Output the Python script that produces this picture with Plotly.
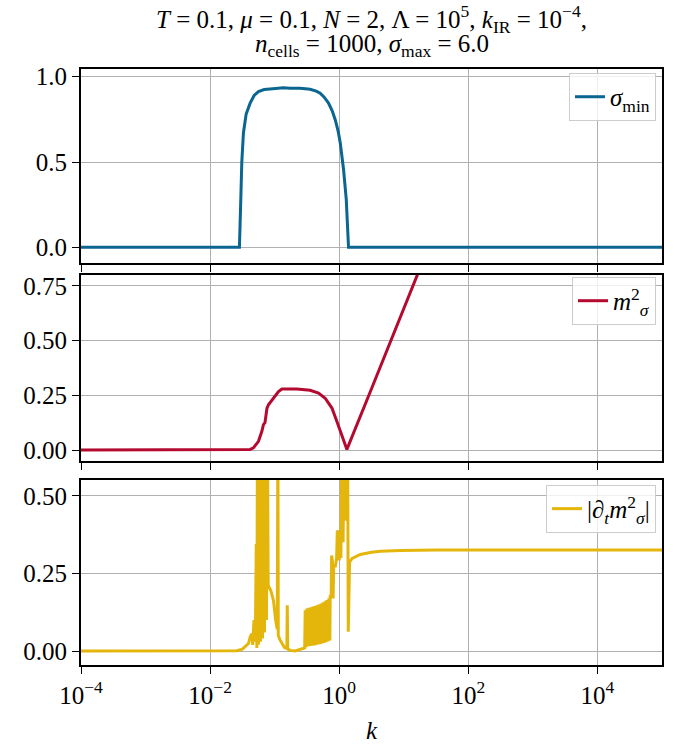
import plotly.graph_objects as go
from plotly.subplots import make_subplots

# ---------------- data ----------------
# panel 1: sigma_min vs log10(k)
sigma_logk = [-4.0, -1.546, -1.527, -1.509, -1.484, -1.442, -1.380, -1.318, -1.251,
              -1.163, -1.070, -0.915, -0.868, -0.760, -0.605, -0.450, -0.357, -0.295,
              -0.233, -0.166, -0.109, -0.062, -0.016, 0.016, 0.067, 0.109, 0.135,
              0.144, 5.0]
sigma_vals = [0.0, 0.0, 0.25, 0.50, 0.67, 0.78, 0.845, 0.89, 0.913,
              0.925, 0.928, 0.932, 0.935, 0.932, 0.932, 0.926, 0.915, 0.903,
              0.88, 0.845, 0.80, 0.748, 0.68, 0.612, 0.456, 0.281, 0.087,
              0.0, 0.0]

# panel 2: m_sigma^2 vs log10(k)
m2_logk = [-4.0, -1.431, -1.380, -1.329, -1.251, -1.198, -1.174, -1.150, -1.132,
           -1.120, -1.096, -1.019, -0.941, -0.888, -0.656, -0.450, -0.321, -0.217,
           -0.113, -0.036, 0.042, 0.119, 0.50, 0.946, 1.21, 1.30]
m2_vals = [0.0, 0.0, 0.003, 0.01, 0.04, 0.086, 0.116, 0.125, 0.177,
           0.19, 0.207, 0.237, 0.267, 0.279, 0.279, 0.273, 0.26, 0.237,
           0.192, 0.131, 0.071, 0.003, 0.28, 0.607, 0.80, 0.866]

# panel 3: |d_t m_sigma^2| vs log10(k)
dm2_logk = [-4.0, -1.70, -1.586, -1.50, -1.45, -1.406, -1.380, -1.353, -1.340,
            -1.320, -1.300, -1.285, -1.276,
            -1.267, -1.251, -1.236, -1.220, -1.205, -1.189, -1.174, -1.158,
            -1.143, -1.127, -1.112, -1.100,
            -1.096, -1.060, -1.019, -0.985, -0.960, -0.950, -0.944, -0.915,
            -0.888, -0.850, -0.811, -0.805, -0.798, -0.760, -0.682, -0.605,
            -0.535, -0.527, -0.520,
            -0.501, -0.486, -0.470, -0.455, -0.439, -0.424, -0.408, -0.393,
            -0.377, -0.362, -0.346, -0.331, -0.315, -0.300, -0.284, -0.269,
            -0.253, -0.238, -0.222, -0.207, -0.191, -0.176, -0.160, -0.145,
            -0.140, -0.125, -0.118, -0.105, -0.095, -0.085, -0.062, -0.040,
            -0.030, -0.015, 0.000, 0.010, 0.026, 0.040, 0.060, 0.075,
            0.090, 0.105, 0.119, 0.130, 0.140, 0.160, 0.200, 0.326,
            0.500, 0.636, 0.946, 1.500, 5.0]
dm2_vals = [0.0, 0.0, 0.001, 0.006, 0.015, 0.024, 0.045, 0.056, 0.020,
            0.100, 0.030, 0.345, 0.010,
            0.70, 0.02, 0.70, 0.03, 0.70, 0.04, 0.70, 0.06,
            0.70, 0.10, 0.70, 0.20,
            0.21, 0.195, 0.163, 0.10, 0.07, 0.70, 0.05, 0.035,
            0.024, 0.012, 0.008, 0.147, 0.008, 0.002, 0.0, 0.005,
            0.010, 0.131, 0.012,
            0.137, 0.015, 0.139, 0.016, 0.141, 0.017, 0.143, 0.018,
            0.145, 0.019, 0.147, 0.021, 0.150, 0.022, 0.153, 0.024,
            0.156, 0.026, 0.160, 0.028, 0.164, 0.031, 0.170, 0.034,
            0.180, 0.169, 0.308, 0.290, 0.169, 0.280, 0.270, 0.300,
            0.388, 0.380, 0.292, 0.345, 0.300, 0.70, 0.350, 0.70,
            0.420, 0.70, 0.450, 0.70, 0.062, 0.286, 0.298, 0.311,
            0.318, 0.321, 0.324, 0.325, 0.325]

x_tick_exps = [-4, -2, 0, 2, 4]
y1_ticks = [0.0, 0.5, 1.0]
y2_ticks = [0.0, 0.25, 0.50, 0.75]
y3_ticks = [0.0, 0.25, 0.50]

# ---------------- style ----------------
FONT = "Liberation Serif"
FS = 25
BLUE = "#0a6590"
RED = "#b50a30"
YELLOW = "#e4b60c"
GRID = "#b0b0b0"

fig = make_subplots(rows=3, cols=1, shared_xaxes=True)

fig.add_trace(go.Scatter(x=[10 ** v for v in sigma_logk], y=sigma_vals, mode="lines",
                         line=dict(color=BLUE, width=3),
                         name="<i>σ</i><sub>min</sub>", legend="legend"), row=1, col=1)
fig.add_trace(go.Scatter(x=[10 ** v for v in m2_logk], y=m2_vals, mode="lines",
                         line=dict(color=RED, width=3),
                         name="<i>m</i><sup>2</sup><sub><i>σ</i></sub>", legend="legend2"), row=2, col=1)
fig.add_trace(go.Scatter(x=[10 ** v for v in dm2_logk], y=dm2_vals, mode="lines",
                         line=dict(color=YELLOW, width=3),
                         name="|∂<sub><i>t</i></sub><i>m</i><sup>2</sup><sub><i>σ</i></sub>|",
                         legend="legend3"), row=3, col=1)

xtickvals = [10.0 ** e for e in x_tick_exps]
xticktext = ["10<sup>%s</sup>" % (str(e).replace("-", "−")) for e in x_tick_exps]

common_axis = dict(showgrid=True, gridcolor=GRID, gridwidth=1.3, showline=True,
                   linecolor="black", linewidth=1.8, mirror=True, ticks="outside",
                   ticklen=7, tickwidth=1.4, tickcolor="black", zeroline=False,
                   tickfont=dict(family=FONT, size=FS, color="black"))

for i in (1, 2, 3):
    fig.update_xaxes(type="log", range=[-4, 5], tickvals=xtickvals, ticktext=xticktext,
                     showticklabels=(i == 3), row=i, col=1, **common_axis)

fig.update_xaxes(title=dict(text="<i>k</i>", font=dict(family=FONT, size=FS, color="black"),
                            standoff=14), row=3, col=1)

H = 668 - 69
def dom(top_px, bot_px):
    return [(668 - bot_px) / H, (668 - top_px) / H]

fig.update_yaxes(range=[-0.092, 1.045], tickvals=y1_ticks, ticktext=["0.0", "0.5", "1.0"],
                 domain=dom(69, 264), row=1, col=1, **common_axis)
fig.update_yaxes(range=[-0.05, 0.8], tickvals=y2_ticks, ticktext=["0.00", "0.25", "0.50", "0.75"],
                 domain=dom(276, 463), row=2, col=1, **common_axis)
fig.update_yaxes(range=[-0.045, 0.551], tickvals=y3_ticks, ticktext=["0.00", "0.25", "0.50"],
                 domain=dom(482, 668), row=3, col=1, **common_axis)

def leg(top_px):
    return dict(x=(656 - 81) / 581, y=(668 - top_px) / H, xanchor="right", yanchor="top",
                bgcolor="rgba(255,255,255,0.8)", bordercolor="#cccccc", borderwidth=1,
                font=dict(family=FONT, size=FS, color="black"),
                itemwidth=30, tracegroupgap=0)

fig.update_layout(
    width=695, height=752, autosize=False,
    margin=dict(l=81, r=33, t=69, b=84, pad=0),
    paper_bgcolor="white", plot_bgcolor="white",
    font=dict(family=FONT, size=FS, color="black"),
    legend=leg(73), legend2=leg(278), legend3=leg(487),
    showlegend=True,
)

fig.add_annotation(text="<i>T</i> = 0.1, <i>μ</i> = 0.1, <i>N</i> = 2, Λ = 10<sup>5</sup>, "
                        "<i>k</i><sub>IR</sub> = 10<sup>−4</sup>,",
                   xref="paper", yref="paper", x=0.5, y=(668 - 19) / H,
                   xanchor="center", yanchor="middle", showarrow=False,
                   font=dict(family=FONT, size=FS, color="black"))
fig.add_annotation(text="<i>n</i><sub>cells</sub> = 1000, <i>σ</i><sub>max</sub> = 6.0",
                   xref="paper", yref="paper", x=0.5, y=(668 - 45) / H,
                   xanchor="center", yanchor="middle", showarrow=False,
                   font=dict(family=FONT, size=FS, color="black"))

fig.write_html("out.html")
